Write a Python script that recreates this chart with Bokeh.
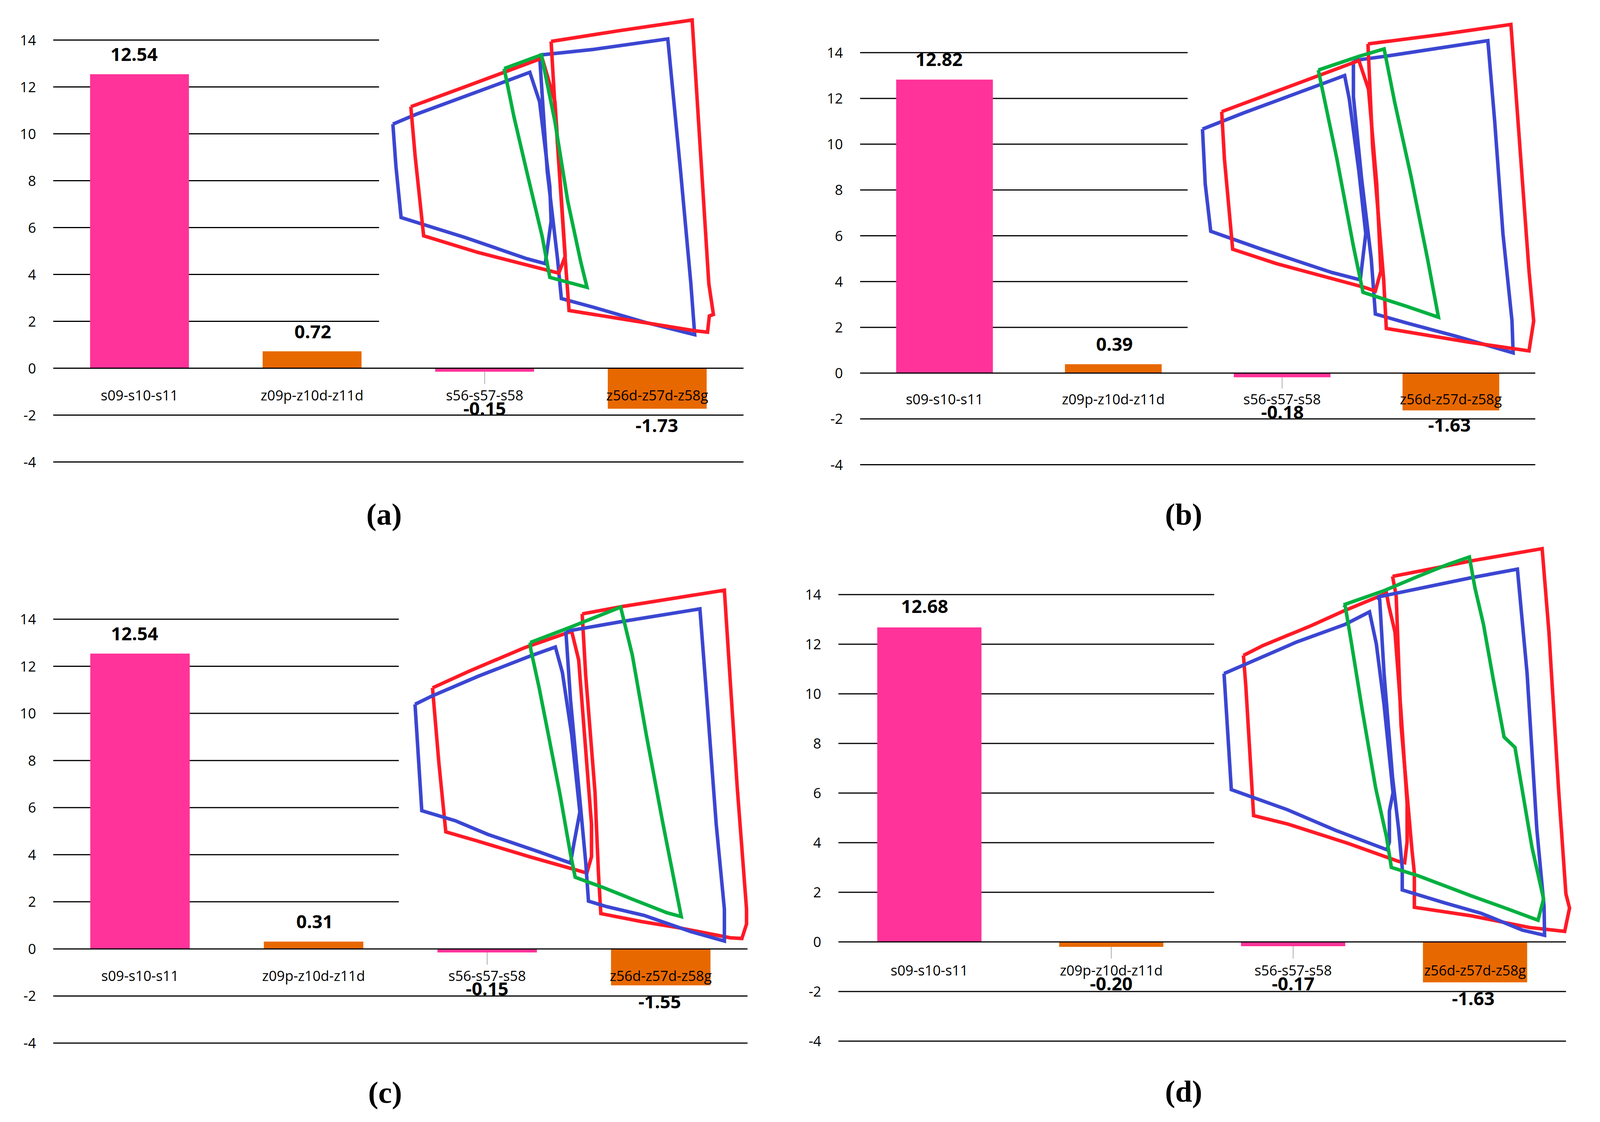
from bokeh.core.properties import value
from bokeh.embed import file_html
from bokeh.resources import INLINE
from bokeh.layouts import column, row
from bokeh.models import ColumnDataSource, FixedTicker, Label, LinearAxis, Range1d
from bokeh.plotting import figure

# ---------------- data ----------------
CATEGORIES = ["s09-s10-s11", "z09p-z10d-z11d", "s56-s57-s58", "z56d-z57d-z58g"]
Y_TICKS = [-4, -2, 0, 2, 4, 6, 8, 10, 12, 14]
CAPTIONS = ["(a)", "(b)", "(c)", "(d)"]

VALUES_A = [12.54, 0.72, -0.15, -1.73]
VALUES_B = [12.82, 0.39, -0.18, -1.63]
VALUES_C = [12.54, 0.31, -0.15, -1.55]
VALUES_D = [12.68, -0.20, -0.17, -1.63]

# overlay outlines: each inset has its own coordinate system (0..1568 both ways, y downwards)
A_BLUE_L = [(118,510),(210,470),(540,345),(652,302),(690,420),(730,760),(735,900),(712,1070),(640,1050),(400,965),(150,885),(130,680)]
A_BLUE_R = [(690,233),(900,210),(1190,168),(1240,700),(1280,1150),(1295,1355),(1100,1305),(900,1245),(775,1210),(760,1050),(720,700)]
A_RED_L = [(188,440),(400,360),(700,245),(750,420),(790,1040),(765,1108),(450,1025),(238,958),(205,640)]
A_RED_R = [(735,178),(1000,135),(1285,92),(1310,500),(1350,1150),(1368,1274),(1352,1280),(1345,1345),(1300,1340),(1000,1290),(805,1258),(790,1050),(750,440)]
A_GREEN = [(552,287),(697,232),(750,500),(800,820),(850,1060),(875,1165),(730,1125),(700,960),(640,700),(590,480)]

B_BLUE_L = [(130,530),(280,465),(550,355),(648,315),(665,410),(700,700),(725,950),(705,1135),(600,1105),(340,1010),(160,940),(140,750)]
B_BLUE_R = [(680,255),(800,237),(1170,175),(1195,500),(1225,950),(1258,1300),(1262,1428),(1050,1360),(880,1310),(760,1272),(745,1050),(710,730),(680,400)]
B_RED_L = [(200,460),(400,378),(700,255),(735,370),(765,750),(780,1100),(760,1180),(720,1165),(400,1070),(240,1012),(210,650)]
B_RED_R = [(733,188),(1000,150),(1254,110),(1280,500),(1320,1100),(1337,1300),(1320,1420),(1100,1385),(800,1330),(790,1130),(750,600)]
B_GREEN = [(552,293),(700,238),(792,208),(830,420),(890,720),(950,1050),(990,1285),(870,1240),(715,1185),(680,1000),(620,650),(580,440)]

C_BLUE_L = [(68,518),(140,485),(340,405),(560,325),(670,288),(700,390),(740,640),(775,950),(750,1075),(735,1155),(600,1110),(380,1040),(240,985),(97,945)]
C_BLUE_R = [(715,225),(960,185),(1290,135),(1320,500),(1360,1000),(1395,1340),(1395,1468),(1250,1430),(1050,1365),(890,1330),(812,1308),(800,1150),(770,850),(735,500)]
C_RED_L = [(143,452),(300,385),(540,290),(740,225),(770,340),(795,640),(825,1000),(825,1130),(805,1195),(560,1130),(330,1065),(200,1030),(170,750)]
C_RED_R = [(785,155),(960,125),(1395,60),(1415,350),(1450,850),(1490,1340),(1490,1400),(1470,1458),(1420,1455),(1200,1415),(1040,1390),(865,1358),(855,1200),(840,870),(800,400)]
C_GREEN = [(562,270),(730,210),(950,128),(1000,320),(1060,640),(1130,990),(1210,1370),(1150,1355),(1000,1300),(880,1255),(755,1212),(735,1120),(690,880),(640,640),(600,450),(565,300)]

D_BLUE_L = [(40,500),(340,378),(540,310),(640,262),(668,385),(700,620),(737,960),(722,1030),(722,1150),(712,1180),(500,1105),(300,1025),(70,948)]
D_BLUE_R = [(672,205),(1060,130),(1250,97),(1290,500),(1330,1100),(1360,1400),(1362,1510),(1270,1490),(1100,1425),(950,1385),(775,1335),(775,1250),(760,1100),(735,900),(700,500),(682,215)]
D_RED_L = [(120,430),(200,392),(400,315),(530,260),(710,190),(720,240),(745,340),(770,650),(795,1000),(795,1150),(785,1230),(760,1225),(550,1155),(300,1080),(162,1048),(130,550)]
D_RED_R = [(735,125),(900,95),(1060,65),(1352,18),(1380,340),(1420,950),(1450,1350),(1465,1405),(1445,1495),(1300,1480),(1060,1435),(825,1402),(825,1270),(815,1180),(770,700),(750,200)]
D_GREEN = [(533,235),(700,180),(840,125),(960,80),(1052,50),(1075,170),(1110,310),(1150,520),(1195,745),(1240,785),(1270,950),(1310,1170),(1358,1370),(1335,1452),(1200,1405),(1060,1358),(840,1280),(730,1248),(710,1130),(665,940),(610,640),(565,380),(540,240)]

# ---------------- layout and style ----------------
PINK, ORANGE = "#FF3399", "#E86800"
BLUE, RED, GREEN = "#3B46D2", "#FF1A26", "#00B040"
BAR_COLORS = [PINK, ORANGE, PINK, ORANGE]
TEXT_FONT = "Open Sans"
SX = 4096 / 4377  # the photographed page is 4096 wide; horizontal measures are fitted to it

PANELS = [
    dict(values=VALUES_A, caption=CAPTIONS[0], box=(8, 8, 2049, 1400), gx0=153.6, gx1=2042, short=1045,
         y0=950.0, unit=60.0, crop=(1000, 0, 1100, 1000), cap=(1058.7, 1324), cat_dy=57,
         dx=[-15, 2, 0, -1], dy=[-51, -50, 95, 43],
         outlines=[(A_BLUE_L, BLUE), (A_BLUE_R, BLUE), (A_RED_L, RED), (A_RED_R, RED), (A_GREEN, GREEN)]),
    dict(values=VALUES_B, caption=CAPTIONS[1], box=(2049, 8, 4088, 1400), gx0=2361, gx1=4208, short=3257,
         y0=962.6, unit=58.6, crop=(3200, 0, 1177, 1000), cap=(3246, 1324), cat_dy=55.5,
         dx=[-15, 3, 1, -4], dy=[-51, -51, 90, 38],
         outlines=[(B_BLUE_L, BLUE), (B_BLUE_R, BLUE), (B_RED_L, RED), (B_RED_R, RED), (B_GREEN, GREEN)]),
    dict(values=VALUES_C, caption=CAPTIONS[2], box=(8, 1400, 2049, 2864), gx0=153.6, gx1=2053, short=1099,
         y0=2436.4, unit=60.28, crop=(1100, 1480, 1000, 1000), cap=(1061.5, 2803.5), cat_dy=57,
         dx=[-15, 3, 0, -3], dy=[-50, -51, 94, 42],
         outlines=[(C_RED_L, RED), (C_RED_R, RED), (C_BLUE_L, BLUE), (C_BLUE_R, BLUE), (C_GREEN, GREEN)]),
    dict(values=VALUES_D, caption=CAPTIONS[3], box=(2049, 1400, 4088, 2864), gx0=2301.6, gx1=4292, short=3329.6,
         y0=2418.6, unit=63.5, crop=(3330, 1400, 1040, 1040), cap=(3246, 2800.7), cat_dy=61,
         dx=[-13, 0, 0, -5], dy=[-53, 95, 97, 42],
         outlines=[(D_RED_L, RED), (D_RED_R, RED), (D_BLUE_L, BLUE), (D_BLUE_R, BLUE), (D_GREEN, GREEN)]),
]
CENTERS = [0.5, 1.5, 2.5, 3.5]
BAR_WIDTH = 0.573
LEADER_END = -0.67
INSET_SIZE = 1568


def panel(cfg):
    left, top, right, bottom = cfg["box"]
    gx0, gx1, y0, unit = cfg["gx0"] * SX, cfg["gx1"] * SX, cfg["y0"], cfg["unit"]
    step = (gx1 - gx0) / 4
    to_cat = lambda px: (px - gx0) / step
    to_val = lambda py: (y0 - py) / unit

    p = figure(width=right - left, height=bottom - top, output_backend="svg", toolbar_location=None,
               x_range=Range1d(to_cat(left), to_cat(right)), y_range=Range1d(to_val(bottom), to_val(top)),
               min_border=0, min_border_left=0, min_border_right=0, min_border_top=0, min_border_bottom=0,
               x_axis_location=None, y_axis_location=None, outline_line_color=None)
    p.grid.visible = False

    cx, cy, cw, ch = cfg["crop"]
    cx, cw = cx * SX, cw * SX
    p.extra_x_ranges["inset_x"] = Range1d((left - cx) / cw * INSET_SIZE, (right - cx) / cw * INSET_SIZE)
    p.extra_y_ranges["inset_y"] = Range1d((bottom - cy) / ch * INSET_SIZE, (top - cy) / ch * INSET_SIZE)

    # gridlines: those above zero stop where the overlay begins
    rest = [t for t in Y_TICKS if t != 0]
    ends = [to_cat(cfg["short"] * SX) if t > 0 else 4 for t in rest]
    p.segment(x0=[0] * len(rest), x1=ends, y0=rest, y1=rest, line_color="black", line_width=3)

    values = cfg["values"]
    p.vbar(x=CENTERS, top=values, bottom=[0] * 4, width=BAR_WIDTH, fill_color=BAR_COLORS, line_color=None)
    p.segment(x0=[0], x1=[4], y0=[0], y1=[0], line_color="black", line_width=3)

    lead = [(c, v) for c, v in zip(CENTERS, values) if LEADER_END < v < 0]
    p.segment(x0=[c for c, _ in lead], x1=[c for c, _ in lead], y0=[v for _, v in lead],
              y1=[LEADER_END] * len(lead), line_color="#AAAAAA", line_width=2)

    for pts, color in cfg["outlines"]:
        xs = [a for a, _ in pts] + [pts[0][0]]
        ys = [b for _, b in pts] + [pts[0][1]]
        p.line(xs, ys, line_color=color, line_width=9, line_join="miter",
               x_range_name="inset_x", y_range_name="inset_y")

    src = ColumnDataSource(dict(x=CENTERS, y=values, text=[f"{v:.2f}" for v in values],
                                dx=[d * SX for d in cfg["dx"]], dy=cfg["dy"]))
    p.text(x="x", y="y", text="text", x_offset="dx", y_offset="dy", source=src, text_align="center",
           text_baseline="middle", text_font=value(TEXT_FONT), text_font_style="bold", text_font_size="47px",
           text_color="black")

    yaxis = LinearAxis(ticker=FixedTicker(ticks=Y_TICKS), fixed_location=0,
                       major_label_overrides={t: str(t) for t in Y_TICKS})
    yaxis.axis_line_color = None
    yaxis.major_tick_line_color = None
    yaxis.minor_tick_line_color = None
    yaxis.major_label_standoff = 38
    yaxis.major_label_text_font = TEXT_FONT
    yaxis.major_label_text_font_size = "36px"
    yaxis.major_label_text_color = "black"
    p.add_layout(yaxis, "left")

    xaxis = LinearAxis(ticker=FixedTicker(ticks=CENTERS), fixed_location=0,
                       major_label_overrides=dict(zip(CENTERS, CATEGORIES)))
    xaxis.axis_line_color = None
    xaxis.major_tick_line_color = None
    xaxis.minor_tick_line_color = None
    xaxis.major_label_standoff = int(cfg["cat_dy"] - 19)
    xaxis.major_label_text_font = TEXT_FONT
    xaxis.major_label_text_font_size = "36px"
    xaxis.major_label_text_color = "black"
    p.add_layout(xaxis, "below")

    capx, capy = cfg["cap"]
    p.add_layout(Label(x=capx * SX - left, y=bottom - capy, x_units="screen", y_units="screen", text=cfg["caption"],
                       text_align="center", text_baseline="middle", text_font="Liberation Serif",
                       text_font_style="bold", text_font_size="78px", text_color="black"))
    return p


figs = [panel(c) for c in PANELS]
page = column(row(figs[0], figs[1]), row(figs[2], figs[3]))
open("out.html", "w").write(file_html(page, INLINE))
